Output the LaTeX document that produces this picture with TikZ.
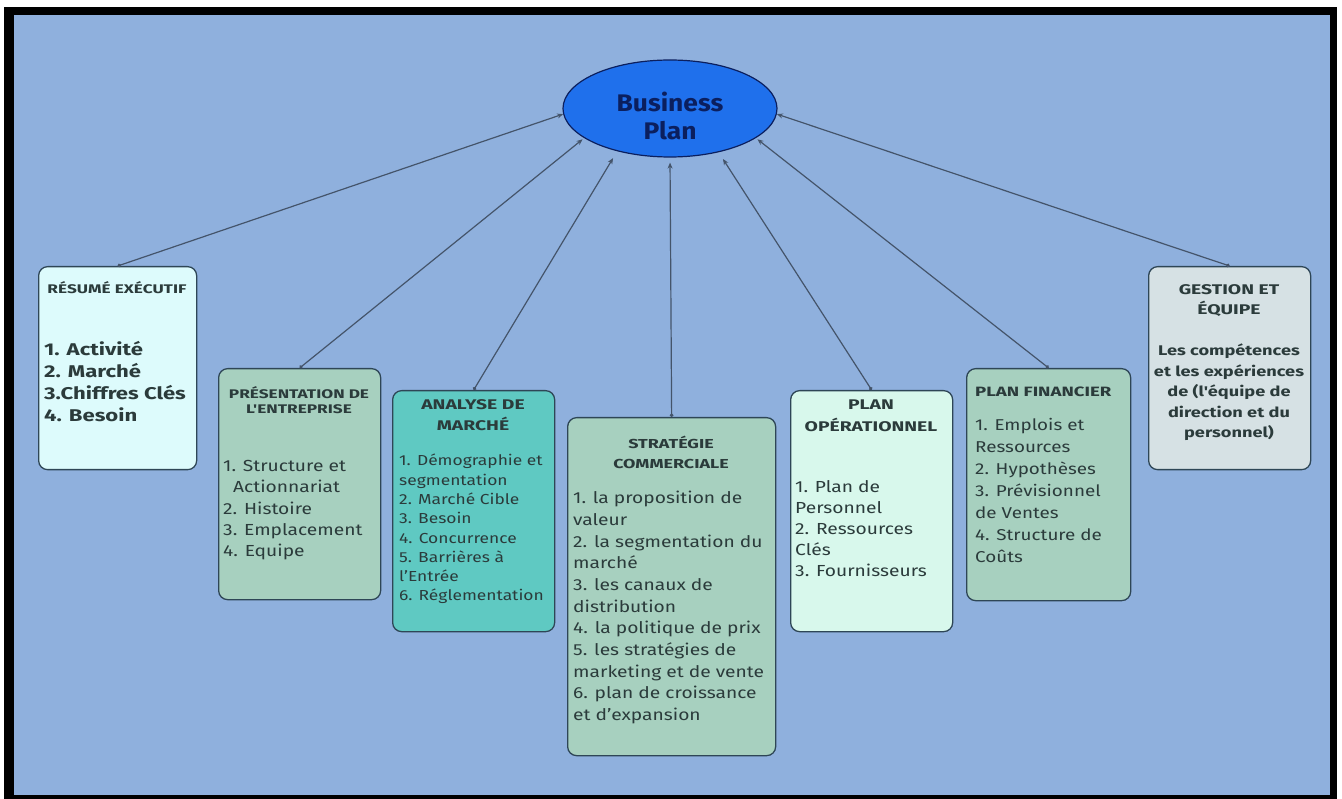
\documentclass[tikz,border=0pt]{standalone}
\usepackage{fontspec}
\setmainfont{Fira Sans}[FakeStretch=1.2]
\newfontfamily\ttlfont{Fira Sans}[FakeStretch=1.38]
\newfontfamily\boldbody{Fira Sans}[FakeStretch=1.3]
\newfontfamily\bizfont{Fira Sans}[FakeStretch=1.1]
\usetikzlibrary{arrows.meta,shapes.geometric}
\definecolor{bg}{HTML}{8FB0DD}
\definecolor{ellblue}{HTML}{1F70EC}
\definecolor{navy}{HTML}{0B1F5E}
\definecolor{boxline}{HTML}{2E4656}
\definecolor{conn}{HTML}{44546A}
\definecolor{txt}{HTML}{2B3B3B}
\definecolor{cRes}{HTML}{DDFBFC}
\definecolor{cSage}{HTML}{A7D0BF}
\definecolor{cTeal}{HTML}{5FC9C2}
\definecolor{cMint}{HTML}{D8F8EC}
\definecolor{cGrey}{HTML}{D6E1E4}
\tikzset{
  box/.style={draw=boxline, line width=1.3pt, rounded corners=9pt, inner sep=0pt, anchor=north west},
  ttl/.style={inner sep=0pt, align=center, text=txt, anchor=north},
  itm/.style={inner sep=0pt, align=left, text=txt, anchor=north west},
  link/.style={draw=conn, line width=1.2pt, {Circle[length=3.5pt]}-{Stealth[length=6pt,width=5pt]}},
}
\begin{document}
\begin{tikzpicture}[x=1pt,y=-1pt]
\useasboundingbox (0,0) rectangle (1342,799);
\fill[white] (0,0) rectangle (1342,799);
\fill[black] (4,7) rectangle (1337,799);
\fill[bg] (14,15) rectangle (1330,795);

% central ellipse
\node[ellipse, draw=navy, line width=1.2pt, fill=ellblue, minimum width=214pt, minimum height=97pt, inner sep=0pt] (bp) at (670,108.5) {};
\node[inner sep=0pt, align=center, text=navy, font=\bizfont\bfseries\fontsize{24}{28}\selectfont] (bpt) at (670,116) {Business\\Plan};

% boxes
\node[box, fill=cRes,  minimum width=158pt, minimum height=203pt] (res) at (38,266) {};
\node[box, fill=cSage, minimum width=162pt, minimum height=231pt] (pre) at (218,368) {};
\node[box, fill=cTeal, minimum width=162pt, minimum height=241pt] (ana) at (392,390) {};
\node[box, fill=cSage, minimum width=208pt, minimum height=338pt] (str) at (567,417) {};
\node[box, fill=cMint, minimum width=162pt, minimum height=241pt] (ope) at (790,390) {};
\node[box, fill=cSage, minimum width=164pt, minimum height=232pt] (fin) at (966,368) {};
\node[box, fill=cGrey, minimum width=162pt, minimum height=203pt] (ges) at (1148,266) {};

% connectors
\draw[link] (res.north) -- (bp.183);
\draw[link, shorten >=2pt] (pre.north) -- (bp.199);
\draw[link, shorten >=8pt] (ana.north) -- (bp.219);
\draw[link, shorten >=5pt] (str.north) -- (bp.270);
\draw[link, shorten >=8pt] (ope.north) -- (bp.318);
\draw[link, shorten >=2pt] (fin.north) -- (bp.341);
\draw[link] (ges.north) -- (bp.357);

% Résumé exécutif
\node[ttl, font=\ttlfont\bfseries\fontsize{12.5}{15}\selectfont] (resT) at (117,281) {RÉSUMÉ EXÉCUTIF};
\node[itm, font=\boldbody\bfseries\fontsize{17}{22}\selectfont] (resI) at (44,341) {1. Activité\\2. Marché\\3.Chiffres Clés\\4. Besoin};

% Présentation de l'entreprise
\node[ttl, font=\ttlfont\bfseries\fontsize{12.5}{15}\selectfont] (preT) at (299,386) {PRÉSENTATION DE\\L'ENTREPRISE};
\node[itm, font=\fontsize{16}{21.3}\selectfont] (preI) at (223,460) {1. Structure et\\\hspace*{10pt}Actionnariat\\2. Histoire\\3. Emplacement\\4. Equipe};

% Analyse de marché
\node[ttl, font=\ttlfont\bfseries\fontsize{14}{21}\selectfont] (anaT) at (473,399) {ANALYSE DE\\MARCHÉ};
\node[itm, font=\fontsize{14.5}{19.3}\selectfont] (anaI) at (399,454) {1. Démographie et\\segmentation\\2. Marché Cible\\3. Besoin\\4. Concurrence\\5. Barrières à\\l'Entrée\\6. Réglementation};

% Stratégie commerciale
\node[ttl, font=\ttlfont\bfseries\fontsize{13}{20}\selectfont] (strT) at (671,436) {STRATÉGIE\\COMMERCIALE};
\node[itm, font=\fontsize{16}{21.7}\selectfont] (strI) at (573,491) {1. la proposition de\\valeur\\2. la segmentation du\\marché\\3. les canaux de\\distribution\\4. la politique de prix\\5. les stratégies de\\marketing et de vente\\6. plan de croissance\\et d'expansion};

% Plan opérationnel
\node[ttl, font=\ttlfont\bfseries\fontsize{14}{22}\selectfont] (opeT) at (871,400) {PLAN\\OPÉRATIONNEL};
\node[itm, font=\fontsize{16}{21}\selectfont] (opeI) at (795,480) {1. Plan de\\Personnel\\2. Ressources\\Clés\\3. Fournisseurs};

% Plan financier
\node[itm, font=\ttlfont\bfseries\fontsize{13.5}{16}\selectfont] (finT) at (975,387) {PLAN FINANCIER};
\node[itm, font=\fontsize{15.7}{22}\selectfont] (finI) at (975,418) {1. Emplois et\\Ressources\\2. Hypothèses\\3. Prévisionnel\\de Ventes\\4. Structure de\\Coûts};

% Gestion et équipe
\node[ttl, font=\ttlfont\bfseries\fontsize{14}{20}\selectfont] (gesT) at (1229,284) {GESTION ET\\ÉQUIPE};
\node[ttl, font=\boldbody\bfseries\fontsize{14}{20.5}\selectfont] (gesI) at (1229,344) {Les compétences\\et les expériences\\de (l'équipe de\\direction et du\\personnel)};
\end{tikzpicture}
\end{document}
